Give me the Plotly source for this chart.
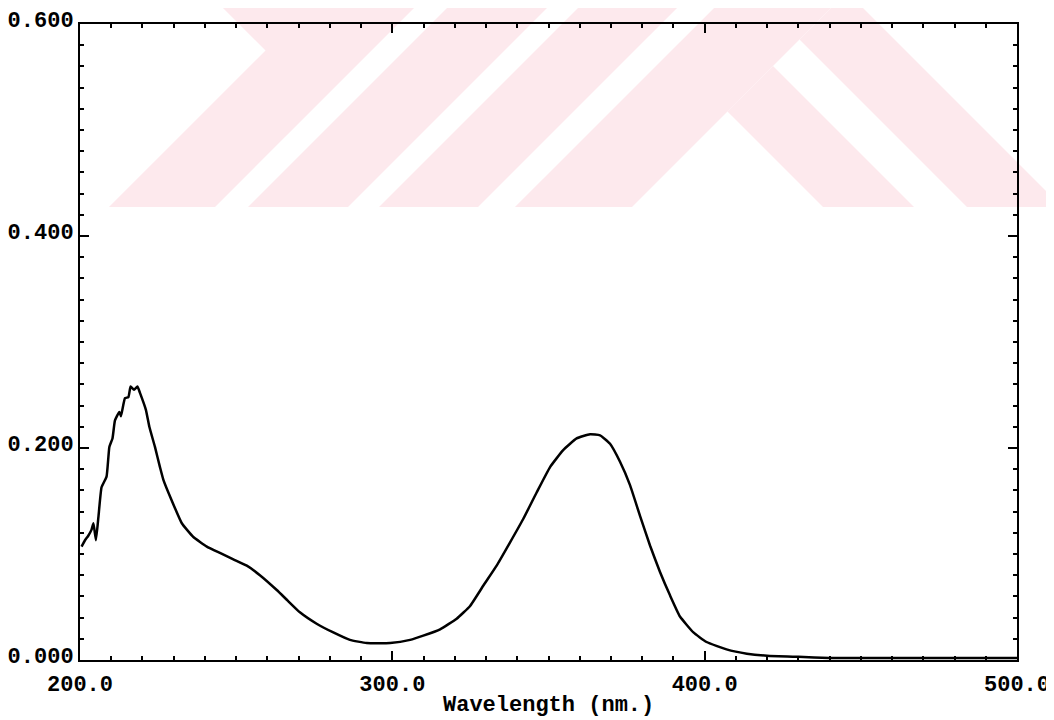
import plotly.graph_objects as go

# ---------------- data ----------------
wavelength_nm = [
    200.5, 201.6, 202.6, 203.7, 204.3, 205.1, 205.9, 206.9, 208.5, 209.4,
    210.4, 211.2, 212.6, 213.1, 214.4, 215.5, 216.2, 217.3, 218.4, 219.2,
    221.1, 222.2, 224.0, 225.6, 226.7, 229.3, 232.6, 236.3, 240.6, 244.8,
    249.1, 253.4, 257.6, 263.0, 266.5, 270.4, 275.9, 281.1, 286.4, 291.8,
    299.3, 305.7, 309.9, 315.3, 320.6, 324.9, 329.1, 333.4, 337.7, 341.9,
    346.2, 350.5, 354.7, 359.0, 363.3, 366.5, 369.7, 372.9, 376.1, 379.3,
    382.5, 385.7, 388.9, 392.1, 396.4, 400.6, 407.0, 413.5, 420.0, 430.0,
    440.0, 460.0, 480.0, 500.0,
]
absorbance = [
    0.107, 0.113, 0.117, 0.123, 0.129, 0.113, 0.135, 0.163, 0.173, 0.201,
    0.209, 0.226, 0.234, 0.230, 0.247, 0.248, 0.258, 0.255, 0.258, 0.252,
    0.236, 0.220, 0.201, 0.182, 0.170, 0.151, 0.129, 0.116, 0.107, 0.101,
    0.095, 0.089, 0.080, 0.066, 0.056, 0.045, 0.034, 0.026, 0.019, 0.016,
    0.016, 0.019, 0.023, 0.029, 0.039, 0.051, 0.070, 0.089, 0.111, 0.133,
    0.158, 0.182, 0.198, 0.209, 0.213, 0.212, 0.204, 0.187, 0.165, 0.136,
    0.108, 0.083, 0.061, 0.041, 0.026, 0.017, 0.010, 0.006, 0.004, 0.003,
    0.002, 0.002, 0.002, 0.002,
]
x_range = [200, 500]
y_range = [0, 0.6]
x_title = "Wavelength (nm.)"

# ---------------- layout geometry ----------------
# the page body has an 8px margin, so the figure starts at (8, 8) in the window
OFF = 8
W, H = 1054, 720
ML, MR, MT, MB = 72, 45, 16, 68
PW, PH = W - ML - MR, H - MT - MB

TICK_FONT = dict(family="Liberation Mono, Courier New, monospace", size=22,
                 color="black", weight="bold")


def px_to_paper(pts):
    # window pixel coordinates -> paper coordinates
    return [((px - OFF - ML) / PW, (H - MB - (py - OFF)) / PH) for px, py in pts]


def poly_path(pts):
    p = px_to_paper(pts)
    return "M " + " L ".join(f"{x:.4f},{y:.4f}" for x, y in p) + " Z"


# faint pink watermark band across the top of the scan (window pixels)
watermark_polys = [
    [(215, 0), (293, 0), (303, 8), (313, 0), (422, 0), (215, 207), (109, 207), (265.5, 50.5)],
    [(455, 0), (555, 0), (348, 207), (248, 207)],
    [(586, 0), (685, 0), (478, 207), (379, 207)],
    [(722, 0), (839, 0), (632, 207), (515, 207)],
    [(727.5, 111.5), (773, 66), (914, 207), (823, 207)],
    [(839, 0), (855, 0), (1062, 207), (967, 207), (799.5, 39.5)],
]
shapes = [
    dict(type="path", xref="paper", yref="paper", path=poly_path(p),
         fillcolor="#fde9ed", line=dict(width=0), layer="below")
    for p in watermark_polys
]

fig = go.Figure()
fig.add_trace(go.Scatter(
    x=wavelength_nm, y=absorbance, mode="lines",
    line=dict(color="black", width=2.5, shape="spline", smoothing=0.4),
    showlegend=False, hoverinfo="x+y",
))

axis_common = dict(
    showline=True, linecolor="black", linewidth=2, mirror="allticks",
    showgrid=False, zeroline=False,
    ticks="inside", ticklen=9, tickwidth=2, tickcolor="black",
    tickfont=TICK_FONT,
)

fig.update_xaxes(
    range=x_range, tick0=200, dtick=100, tickformat=".1f",
    minor=dict(ticks="inside", dtick=10, ticklen=4, tickwidth=2, tickcolor="black",
               showgrid=False),
    ticklabelstandoff=3,
    **axis_common,
)
fig.update_yaxes(
    range=y_range, tick0=0, dtick=0.2, tickformat=".3f",
    minor=dict(ticks="inside", dtick=0.02, ticklen=4, tickwidth=2, tickcolor="black",
               showgrid=False),
    ticklabelstandoff=0, ticklabelshift=-5,
    **axis_common,
)

fig.update_layout(
    width=W, height=H,
    margin=dict(l=ML, r=MR, t=MT, b=MB, pad=0, autoexpand=False),
    paper_bgcolor="white", plot_bgcolor="rgba(0,0,0,0)",
    shapes=shapes,
    annotations=[dict(
        text=x_title, xref="paper", yref="paper", x=0.5, y=-45 / PH,
        xanchor="center", yanchor="middle", showarrow=False, font=TICK_FONT,
    )],
    showlegend=False,
)

fig.write_html("out.html")
